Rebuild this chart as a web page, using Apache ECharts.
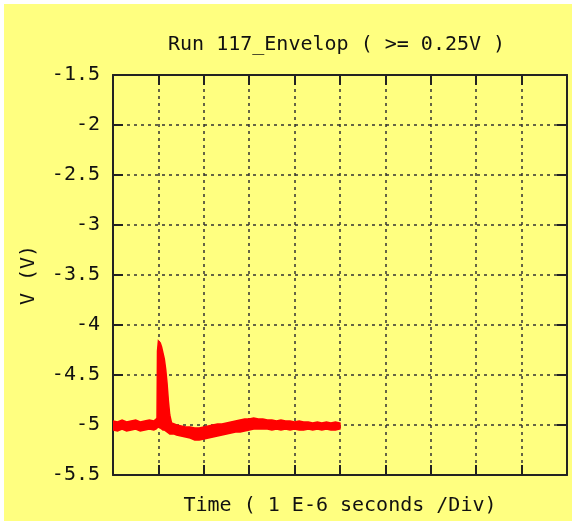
<!DOCTYPE html>
<html>
<head>
<meta charset="utf-8">
<script src="https://cdn.jsdelivr.net/npm/echarts@6/dist/echarts.min.js"></script>
<style>
  html, body { margin: 0; padding: 0; background: #ffffff; }
  #frame { position: absolute; left: 4px; top: 4px; width: 568px; height: 517px; background: #ffff80; }
  #chart { width: 568px; height: 517px; }
</style>
</head>
<body>
<div id="frame"><div id="chart"></div></div>
<script>
// Time axis in divisions (1 div = 1 E-6 s)
const time = [
  0, 0.1, 0.2, 0.3, 0.4, 0.5, 0.6, 0.7, 0.8, 0.9, 0.95,
  0.97, 0.98, 1.00, 1.04, 1.07, 1.10, 1.13, 1.16, 1.19, 1.22, 1.25, 1.29,
  1.35, 1.4, 1.5, 1.6, 1.7, 1.8, 1.9, 2.0, 2.1, 2.2, 2.3, 2.4, 2.5, 2.6, 2.7, 2.8, 2.9,
  3.0, 3.1, 3.2, 3.3, 3.4, 3.5, 3.6, 3.7, 3.8, 3.9, 4.0, 4.1, 4.2, 4.3, 4.4, 4.5,
  4.6, 4.7, 4.8, 4.9, 5.0
];

// Envelope maximum (V)
const upper = [
  -4.96, -4.97, -4.95, -4.97, -4.96, -4.95, -4.97, -4.96, -4.95, -4.96, -4.94,
  -4.93, -4.26, -4.16, -4.18, -4.22, -4.28, -4.34, -4.44, -4.58, -4.76, -4.90, -4.98,
  -4.99, -5.00, -5.01, -5.02, -5.02, -5.03, -5.03, -5.02, -5.01, -5.00, -4.99, -4.99, -4.98, -4.97, -4.96, -4.95, -4.94,
  -4.94, -4.93, -4.94, -4.94, -4.95, -4.95, -4.96, -4.95, -4.96, -4.96, -4.97, -4.96, -4.97, -4.97, -4.98, -4.97,
  -4.98, -4.97, -4.98, -4.97, -4.98
];

// Envelope minimum (V)
const lower = [
  -5.05, -5.06, -5.04, -5.06, -5.05, -5.04, -5.06, -5.05, -5.04, -5.05, -5.04,
  -5.03, -5.02, -5.02, -5.03, -5.04, -5.05, -5.05, -5.06, -5.07, -5.08, -5.09, -5.09,
  -5.09, -5.10, -5.11, -5.12, -5.13, -5.15, -5.15, -5.14, -5.13, -5.12, -5.11, -5.10, -5.09, -5.08, -5.07, -5.07, -5.06,
  -5.05, -5.04, -5.04, -5.04, -5.04, -5.05, -5.04, -5.05, -5.04, -5.05, -5.04, -5.05, -5.05, -5.04, -5.05, -5.04,
  -5.05, -5.04, -5.05, -5.05, -5.04
];

const FONT = 'DejaVu Sans Mono';
const INK = '#111111';

const chart = echarts.init(document.getElementById('chart'), null, { renderer: 'canvas' });

const gridLine = { show: true, lineStyle: { color: '#333333', width: 1.5, type: [3, 4] } };
const frameLine = { show: true, onZero: false, lineStyle: { color: '#222222', width: 2 } };
const innerTick = { show: true, inside: true, length: 10, lineStyle: { color: '#222222', width: 2 } };

chart.setOption({
  backgroundColor: 'transparent',
  animation: false,
  title: {
    text: 'Run 117_Envelop ( >= 0.25V )',
    left: 159,
    top: 26,
    textStyle: { fontFamily: FONT, fontSize: 20, fontWeight: 'normal', color: INK }
  },
  grid: { left: 109, right: 5, top: 71, bottom: 37, containLabel: false },
  xAxis: [
    {
      type: 'value', min: 0, max: 10, interval: 1, position: 'bottom',
      name: 'Time ( 1 E-6 seconds /Div)', nameLocation: 'middle', nameGap: 21,
      nameTextStyle: { fontFamily: FONT, fontSize: 20, color: INK },
      axisLine: frameLine, axisTick: innerTick, axisLabel: { show: false },
      splitLine: gridLine
    },
    {
      type: 'value', min: 0, max: 10, interval: 1, position: 'top',
      axisLine: frameLine, axisTick: innerTick, axisLabel: { show: false },
      splitLine: { show: false }
    }
  ],
  yAxis: [
    {
      type: 'value', min: -5.5, max: -1.5, interval: 0.5, position: 'left',
      name: 'V (V)', nameLocation: 'middle', nameGap: 74, nameRotate: 90,
      nameTextStyle: { fontFamily: FONT, fontSize: 20, color: INK },
      axisLine: frameLine, axisTick: innerTick,
      axisLabel: { show: true, margin: 13, fontFamily: FONT, fontSize: 20, color: INK },
      splitLine: gridLine
    },
    {
      type: 'value', min: -5.5, max: -1.5, interval: 0.5, position: 'right',
      axisLine: frameLine, axisTick: innerTick, axisLabel: { show: false },
      splitLine: { show: false }
    }
  ],
  series: [
    {
      type: 'custom',
      xAxisIndex: 0,
      yAxisIndex: 0,
      clip: true,
      data: [[0, 0]],
      renderItem: function (params, api) {
        // Outline of the envelope: maximum left to right, then minimum back
        const pts = [];
        for (let i = 0; i < time.length; i++) pts.push(api.coord([time[i], upper[i]]));
        for (let i = time.length - 1; i >= 0; i--) pts.push(api.coord([time[i], lower[i]]));
        return {
          type: 'polygon',
          shape: { points: pts },
          style: { fill: '#ff0000', stroke: '#ff0000', lineWidth: 1.5 }
        };
      }
    }
  ]
});
</script>
</body>
</html>
